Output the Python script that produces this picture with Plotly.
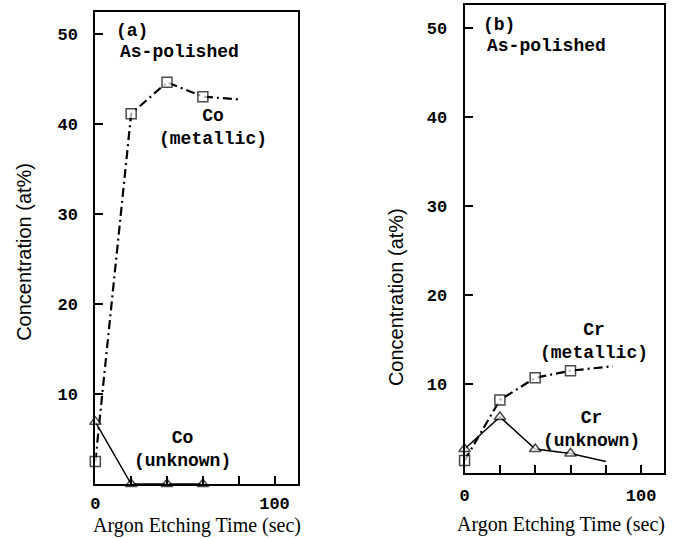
import plotly.graph_objects as go

W, H = 675, 538

# ---- data ----
time_a_met = [0, 20, 40, 60, 80]
co_metallic = [2.5, 41.1, 44.6, 43.0, 42.7]
co_met_marker = [True, True, True, True, False]
time_a_unk = [0, 20, 40, 60]
co_unknown = [6.9, 0.0, 0.0, 0.0]

time_b_met = [0, 20, 40, 60, 84]
cr_metallic = [1.4, 8.2, 10.7, 11.5, 12.0]
cr_met_marker = [True, True, True, True, False]
time_b_unk = [0, 20, 40, 60, 80]
cr_unknown = [2.7, 6.3, 2.7, 2.2, 1.3]
cr_unk_marker = [True, True, True, True, False]

x_tickvals = [0, 20, 40, 60, 80, 100]
x_ticktext = ["0", "", "", "", "", "100"]
y_tickvals = [10, 20, 30, 40, 50]

MONO = "Liberation Mono"
SERIF = "Liberation Serif"
SANS = "Liberation Sans"


def px(x):
    return x / W


def py(y):
    return 1 - y / H


fig = go.Figure()


def add_series(xs, ys, show, symbol, dash, width, xa, ya, msize):
    sizes = [msize if s else 0 for s in show]
    fig.add_trace(go.Scatter(
        x=xs, y=ys, mode="lines+markers", xaxis=xa, yaxis=ya,
        line=dict(color="black", width=width, dash=dash),
        marker=dict(symbol=symbol, size=sizes, color="white",
                    line=dict(color="black", width=1.5)),
        cliponaxis=False, showlegend=False, hoverinfo="skip"))


DASHDOT = "9px,4px,2px,4px"
add_series(time_a_met, co_metallic, co_met_marker, "square", DASHDOT, 2.2, "x", "y", 10)
add_series(time_a_unk, co_unknown, [True] * 4, "triangle-up", "solid", 1.5, "x", "y", 10)
add_series(time_b_met, cr_metallic, cr_met_marker, "square", DASHDOT, 2.2, "x2", "y2", 10)
add_series(time_b_unk, cr_unknown, cr_unk_marker, "triangle-up", "solid", 1.5, "x2", "y2", 10)

axis_common = dict(showline=True, linecolor="black", linewidth=2, mirror=True,
                   ticks="inside", ticklen=8, tickwidth=2, tickcolor="black",
                   showgrid=False, zeroline=False,
                   tickfont=dict(family=MONO, size=17, color="black", weight="bold"))

fig.update_layout(
    width=W, height=H, margin=dict(l=0, r=0, t=0, b=0),
    paper_bgcolor="white", plot_bgcolor="white",
    xaxis=dict(domain=[px(91), px(295)], range=[0, 113], anchor="y",
               tickvals=x_tickvals, ticktext=x_ticktext, ticklabelstandoff=3, **axis_common),
    yaxis=dict(domain=[py(484), py(12)], range=[0, 52.4], anchor="x",
               tickvals=y_tickvals, ticklabelstandoff=12, **axis_common),
    xaxis2=dict(domain=[px(463), px(664)], range=[0, 113], anchor="y2",
                tickvals=x_tickvals, ticktext=x_ticktext, ticklabelstandoff=6, **axis_common),
    yaxis2=dict(domain=[py(473), py(5)], range=[0, 52.6], anchor="x2",
                tickvals=y_tickvals, ticklabelstandoff=12, **axis_common),
)

ann_font = dict(family=MONO, size=18, color="black", weight="bold")
title_font = dict(family=SERIF, size=20, color="black")
ytitle_font = dict(family=SANS, size=20, color="black")
anns = [
    ("(a)", 110, 31, "left", ann_font, 0),
    ("As-polished", 114, 52, "left", ann_font, 0),
    ("Co<br>(metallic)", 210, 127, "center", ann_font, 0),
    ("Co<br>(unknown)", 179, 449, "center", ann_font, 0),
    ("(b)", 480, 25, "left", ann_font, 0),
    ("As-polished", 484, 46, "left", ann_font, 0),
    ("Cr<br>(metallic)", 593, 341, "center", ann_font, 0),
    ("Cr<br>(unknown)", 591, 429, "center", ann_font, 0),
    ("Argon Etching Time (sec)", 193, 525, "center", title_font, 0),
    ("Argon Etching Time (sec)", 560, 524, "center", title_font, 0),
    ("Concentration (at%)", 19, 252, "center", ytitle_font, -90),
    ("Concentration (at%)", 394, 297, "center", ytitle_font, -90),
]
for text, x, y, anchor, font, ang in anns:
    fig.add_annotation(text=text, x=px(x), y=py(y), xref="paper", yref="paper",
                       xanchor=anchor, yanchor="middle", showarrow=False,
                       font=font, textangle=ang)

fig.write_html("out.html")
